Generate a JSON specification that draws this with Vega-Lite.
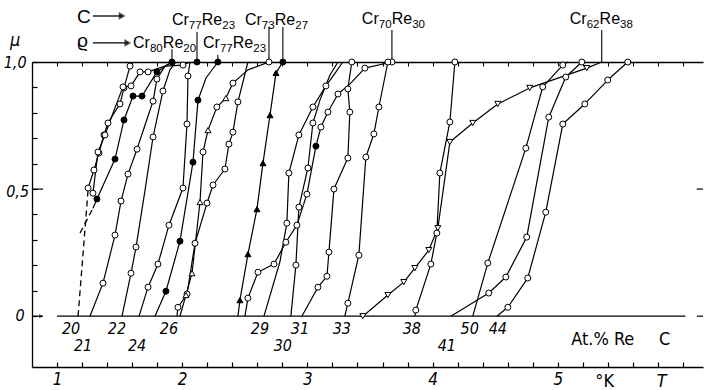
{
  "$schema": "https://vega.github.io/schema/vega-lite/v6.json",
  "width": 671,
  "height": 305,
  "autosize": {"type": "none"},
  "padding": {"left": 32, "top": 62, "right": 1, "bottom": 23},
  "background": "white",
  "config": {
    "view": {"stroke": null},
    "font": "Liberation Sans Narrow, DejaVu Sans Condensed, Liberation Sans, sans-serif",
    "axis": {"grid": false, "domainColor": "black", "tickColor": "black", "title": null}
  },
  "datasets": {
    "curves": [
      {"c": "L1", "k": 0, "T": 1.248, "mu": 0.504, "m": "o"},
      {"c": "L1", "k": 1, "T": 1.295, "mu": 0.575, "m": "o"},
      {"c": "L1", "k": 2, "T": 1.335, "mu": 0.642, "m": "o"},
      {"c": "L1", "k": 3, "T": 1.375, "mu": 0.713, "m": "o"},
      {"c": "L1", "k": 4, "T": 1.407, "mu": 0.76, "m": "o"},
      {"c": "L1", "k": 5, "T": 1.455, "mu": 0.799, "m": ""},
      {"c": "L1", "k": 6, "T": 1.503, "mu": 0.835, "m": "o"},
      {"c": "L1", "k": 7, "T": 1.535, "mu": 0.898, "m": "o"},
      {"c": "L1", "k": 8, "T": 1.583, "mu": 0.984, "m": "o"},
      {"c": "L1", "k": 9, "T": 1.599, "mu": 1.0, "m": ""},

      {"c": "L2", "k": 0, "T": 1.287, "mu": 0.425, "m": ""},
      {"c": "L2", "k": 1, "T": 1.319, "mu": 0.461, "m": "f"},
      {"c": "L2", "k": 2, "T": 1.463, "mu": 0.618, "m": "f"},
      {"c": "L2", "k": 3, "T": 1.535, "mu": 0.772, "m": "f"},
      {"c": "L2", "k": 4, "T": 1.607, "mu": 0.866, "m": "f"},
      {"c": "L2", "k": 5, "T": 1.679, "mu": 0.866, "m": "f"},
      {"c": "L2", "k": 6, "T": 1.798, "mu": 0.961, "m": "f"},
      {"c": "L2", "k": 7, "T": 1.918, "mu": 1.0, "m": "f"},

      {"c": "L3", "k": 0, "T": 1.263, "mu": 0, "m": ""},
      {"c": "L3", "k": 1, "T": 1.367, "mu": 0.13, "m": "o"},
      {"c": "L3", "k": 2, "T": 1.463, "mu": 0.319, "m": "o"},
      {"c": "L3", "k": 3, "T": 1.511, "mu": 0.453, "m": "o"},
      {"c": "L3", "k": 4, "T": 1.567, "mu": 0.559, "m": "o"},
      {"c": "L3", "k": 5, "T": 1.639, "mu": 0.657, "m": "o"},
      {"c": "L3", "k": 6, "T": 1.711, "mu": 0.764, "m": ""},
      {"c": "L3", "k": 7, "T": 1.767, "mu": 0.846, "m": "o"},
      {"c": "L3", "k": 8, "T": 1.798, "mu": 0.933, "m": "o"},
      {"c": "L3", "k": 9, "T": 1.862, "mu": 0.984, "m": ""},
      {"c": "L3", "k": 10, "T": 1.918, "mu": 1.0, "m": ""},

      {"c": "L4", "k": 0, "T": 1.287, "mu": 0.484, "m": "o"},
      {"c": "L4", "k": 1, "T": 1.327, "mu": 0.646, "m": "o"},
      {"c": "L4", "k": 2, "T": 1.383, "mu": 0.713, "m": "o"},
      {"c": "L4", "k": 3, "T": 1.447, "mu": 0.799, "m": ""},
      {"c": "L4", "k": 4, "T": 1.527, "mu": 0.902, "m": "o"},
      {"c": "L4", "k": 5, "T": 1.591, "mu": 0.906, "m": "o"},
      {"c": "L4", "k": 6, "T": 1.663, "mu": 0.961, "m": "o"},
      {"c": "L4", "k": 7, "T": 1.727, "mu": 0.961, "m": "o"},
      {"c": "L4", "k": 8, "T": 1.862, "mu": 0.984, "m": ""},
      {"c": "L4", "k": 9, "T": 2.006, "mu": 0.988, "m": "o"},
      {"c": "L4", "k": 10, "T": 2.062, "mu": 1.0, "m": ""},

      {"c": "L5", "k": 0, "T": 1.519, "mu": 0, "m": ""},
      {"c": "L5", "k": 1, "T": 1.591, "mu": 0.169, "m": "o"},
      {"c": "L5", "k": 2, "T": 1.631, "mu": 0.272, "m": "o"},
      {"c": "L5", "k": 3, "T": 1.703, "mu": 0.496, "m": ""},
      {"c": "L5", "k": 4, "T": 1.767, "mu": 0.705, "m": "o"},
      {"c": "L5", "k": 5, "T": 1.846, "mu": 0.886, "m": "o"},
      {"c": "L5", "k": 6, "T": 1.902, "mu": 0.969, "m": ""},
      {"c": "L5", "k": 7, "T": 1.95, "mu": 1.0, "m": ""},

      {"c": "L7", "k": 0, "T": 1.655, "mu": 0, "m": ""},
      {"c": "L7", "k": 1, "T": 1.727, "mu": 0.114, "m": "o"},
      {"c": "L7", "k": 2, "T": 1.806, "mu": 0.205, "m": "o"},
      {"c": "L7", "k": 3, "T": 1.894, "mu": 0.358, "m": "o"},
      {"c": "L7", "k": 4, "T": 2.006, "mu": 0.504, "m": "o"},
      {"c": "L7", "k": 5, "T": 2.038, "mu": 0.756, "m": "o"},
      {"c": "L7", "k": 6, "T": 2.046, "mu": 0.945, "m": "o"},
      {"c": "L7", "k": 7, "T": 2.062, "mu": 1.0, "m": ""},

      {"c": "L8", "k": 0, "T": 1.782, "mu": 0, "m": ""},
      {"c": "L8", "k": 1, "T": 1.87, "mu": 0.098, "m": "f"},
      {"c": "L8", "k": 2, "T": 1.982, "mu": 0.295, "m": "f"},
      {"c": "L8", "k": 3, "T": 2.086, "mu": 0.606, "m": "f"},
      {"c": "L8", "k": 4, "T": 2.126, "mu": 0.85, "m": "f"},
      {"c": "L8", "k": 5, "T": 2.19, "mu": 0.937, "m": ""},
      {"c": "L8", "k": 6, "T": 2.285, "mu": 1.0, "m": "f"},

      {"c": "L9", "k": 0, "T": 1.958, "mu": 0, "m": ""},
      {"c": "L9", "k": 1, "T": 1.966, "mu": 0.035, "m": "o"},
      {"c": "L9", "k": 2, "T": 2.038, "mu": 0.087, "m": "o"},
      {"c": "L9", "k": 3, "T": 2.102, "mu": 0.287, "m": "o"},
      {"c": "L9", "k": 4, "T": 2.198, "mu": 0.445, "m": "o"},
      {"c": "L9", "k": 5, "T": 2.246, "mu": 0.516, "m": "o"},
      {"c": "L9", "k": 6, "T": 2.341, "mu": 0.579, "m": "o"},
      {"c": "L9", "k": 7, "T": 2.373, "mu": 0.677, "m": "o"},
      {"c": "L9", "k": 8, "T": 2.405, "mu": 0.724, "m": "o"},
      {"c": "L9", "k": 9, "T": 2.445, "mu": 0.843, "m": "o"},
      {"c": "L9", "k": 10, "T": 2.493, "mu": 0.937, "m": ""},
      {"c": "L9", "k": 11, "T": 2.525, "mu": 1.0, "m": ""},

      {"c": "L10", "k": 0, "T": 1.982, "mu": 0, "m": ""},
      {"c": "L10", "k": 1, "T": 2.03, "mu": 0.083, "m": "t"},
      {"c": "L10", "k": 2, "T": 2.078, "mu": 0.169, "m": "t"},
      {"c": "L10", "k": 3, "T": 2.142, "mu": 0.449, "m": "t"},
      {"c": "L10", "k": 4, "T": 2.166, "mu": 0.646, "m": "o"},
      {"c": "L10", "k": 5, "T": 2.206, "mu": 0.732, "m": "t"},
      {"c": "L10", "k": 6, "T": 2.277, "mu": 0.823, "m": "o"},
      {"c": "L10", "k": 7, "T": 2.349, "mu": 0.858, "m": "t"},
      {"c": "L10", "k": 8, "T": 2.405, "mu": 0.917, "m": "o"},
      {"c": "L10", "k": 9, "T": 2.525, "mu": 0.969, "m": ""},
      {"c": "L10", "k": 10, "T": 2.693, "mu": 1.0, "m": "o"},

      {"c": "L11", "k": 0, "T": 2.445, "mu": 0, "m": ""},
      {"c": "L11", "k": 1, "T": 2.461, "mu": 0.063, "m": "ft"},
      {"c": "L11", "k": 2, "T": 2.525, "mu": 0.244, "m": "ft"},
      {"c": "L11", "k": 3, "T": 2.597, "mu": 0.421, "m": "ft"},
      {"c": "L11", "k": 4, "T": 2.645, "mu": 0.602, "m": "ft"},
      {"c": "L11", "k": 5, "T": 2.701, "mu": 0.791, "m": "ft"},
      {"c": "L11", "k": 6, "T": 2.749, "mu": 0.957, "m": "ft"},
      {"c": "L11", "k": 7, "T": 2.804, "mu": 1.0, "m": "f"},

      {"c": "A", "k": 0, "T": 2.501, "mu": 0, "m": ""},
      {"c": "A", "k": 1, "T": 2.525, "mu": 0.071, "m": "o"},
      {"c": "A", "k": 2, "T": 2.605, "mu": 0.173, "m": "o"},
      {"c": "A", "k": 3, "T": 2.733, "mu": 0.205, "m": "o"},
      {"c": "A", "k": 4, "T": 2.828, "mu": 0.291, "m": "o"},
      {"c": "A", "k": 5, "T": 2.916, "mu": 0.358, "m": "o"},
      {"c": "A", "k": 6, "T": 2.996, "mu": 0.48, "m": "o"},
      {"c": "A", "k": 7, "T": 3.068, "mu": 0.669, "m": "f"},
      {"c": "A", "k": 8, "T": 3.108, "mu": 0.744, "m": "o"},
      {"c": "A", "k": 9, "T": 3.164, "mu": 0.803, "m": "o"},
      {"c": "A", "k": 10, "T": 3.244, "mu": 0.874, "m": "o"},
      {"c": "A", "k": 11, "T": 3.339, "mu": 0.913, "m": ""},
      {"c": "A", "k": 12, "T": 3.459, "mu": 0.976, "m": "o"},
      {"c": "A", "k": 13, "T": 3.675, "mu": 1.0, "m": "o"},

      {"c": "B", "k": 0, "T": 2.653, "mu": 0, "m": ""},
      {"c": "B", "k": 1, "T": 2.78, "mu": 0.213, "m": ""},
      {"c": "B", "k": 2, "T": 2.836, "mu": 0.366, "m": "o"},
      {"c": "B", "k": 3, "T": 2.852, "mu": 0.563, "m": "o"},
      {"c": "B", "k": 4, "T": 2.932, "mu": 0.713, "m": "o"},
      {"c": "B", "k": 5, "T": 3.044, "mu": 0.823, "m": "o"},
      {"c": "B", "k": 6, "T": 3.148, "mu": 0.906, "m": "o"},
      {"c": "B", "k": 7, "T": 3.228, "mu": 0.961, "m": ""},
      {"c": "B", "k": 8, "T": 3.283, "mu": 1.0, "m": ""},

      {"c": "C", "k": 0, "T": 2.868, "mu": 0, "m": ""},
      {"c": "C", "k": 1, "T": 2.908, "mu": 0.201, "m": "o"},
      {"c": "C", "k": 2, "T": 2.932, "mu": 0.429, "m": "o"},
      {"c": "C", "k": 3, "T": 3.004, "mu": 0.583, "m": "o"},
      {"c": "C", "k": 4, "T": 3.044, "mu": 0.76, "m": "o"},
      {"c": "C", "k": 5, "T": 3.1, "mu": 0.85, "m": ""},
      {"c": "C", "k": 6, "T": 3.18, "mu": 0.949, "m": ""},
      {"c": "C", "k": 7, "T": 3.244, "mu": 1.0, "m": ""},

      {"c": "D", "k": 0, "T": 2.956, "mu": 0, "m": ""},
      {"c": "D", "k": 1, "T": 3.084, "mu": 0.114, "m": "o"},
      {"c": "D", "k": 2, "T": 3.156, "mu": 0.157, "m": "o"},
      {"c": "D", "k": 3, "T": 3.172, "mu": 0.252, "m": "o"},
      {"c": "D", "k": 4, "T": 3.212, "mu": 0.5, "m": "o"},
      {"c": "D", "k": 5, "T": 3.323, "mu": 0.622, "m": "o"},
      {"c": "D", "k": 6, "T": 3.339, "mu": 0.803, "m": "o"},
      {"c": "D", "k": 7, "T": 3.323, "mu": 0.894, "m": "o"},
      {"c": "D", "k": 8, "T": 3.355, "mu": 1.0, "m": "o"},

      {"c": "E", "k": 0, "T": 3.299, "mu": 0, "m": ""},
      {"c": "E", "k": 1, "T": 3.323, "mu": 0.051, "m": "o"},
      {"c": "E", "k": 2, "T": 3.411, "mu": 0.24, "m": "o"},
      {"c": "E", "k": 3, "T": 3.467, "mu": 0.626, "m": "o"},
      {"c": "E", "k": 4, "T": 3.531, "mu": 0.717, "m": "o"},
      {"c": "E", "k": 5, "T": 3.571, "mu": 0.823, "m": "o"},
      {"c": "E", "k": 6, "T": 3.643, "mu": 1.0, "m": "o"},

      {"c": "G", "k": 0, "T": 3.443, "mu": 0, "m": "td"},
      {"c": "G", "k": 1, "T": 3.643, "mu": 0.083, "m": "td"},
      {"c": "G", "k": 2, "T": 3.77, "mu": 0.134, "m": "td"},
      {"c": "G", "k": 3, "T": 3.858, "mu": 0.189, "m": "td"},
      {"c": "G", "k": 4, "T": 3.97, "mu": 0.26, "m": "td"},
      {"c": "G", "k": 5, "T": 4.042, "mu": 0.346, "m": "td"},
      {"c": "G", "k": 6, "T": 4.138, "mu": 0.685, "m": "td"},
      {"c": "G", "k": 7, "T": 4.321, "mu": 0.76, "m": "td"},
      {"c": "G", "k": 8, "T": 4.521, "mu": 0.835, "m": "td"},
      {"c": "G", "k": 9, "T": 4.776, "mu": 0.898, "m": "td"},
      {"c": "G", "k": 10, "T": 5.232, "mu": 0.976, "m": "td"},
      {"c": "G", "k": 11, "T": 5.351, "mu": 1.0, "m": ""},

      {"c": "F", "k": 0, "T": 3.858, "mu": 0, "m": ""},
      {"c": "F", "k": 1, "T": 3.866, "mu": 0.024, "m": "o"},
      {"c": "F", "k": 2, "T": 3.986, "mu": 0.205, "m": "o"},
      {"c": "F", "k": 3, "T": 4.034, "mu": 0.327, "m": "o"},
      {"c": "F", "k": 4, "T": 4.058, "mu": 0.563, "m": "o"},
      {"c": "F", "k": 5, "T": 4.138, "mu": 0.764, "m": "o"},
      {"c": "F", "k": 6, "T": 4.178, "mu": 1.0, "m": "o"},

      {"c": "H", "k": 0, "T": 4.146, "mu": 0, "m": ""},
      {"c": "H", "k": 1, "T": 4.449, "mu": 0.091, "m": "o"},
      {"c": "H", "k": 2, "T": 4.585, "mu": 0.154, "m": "o"},
      {"c": "H", "k": 3, "T": 4.752, "mu": 0.311, "m": "o"},
      {"c": "H", "k": 4, "T": 4.928, "mu": 0.783, "m": "o"},
      {"c": "H", "k": 5, "T": 5.064, "mu": 0.941, "m": "o"},
      {"c": "H", "k": 6, "T": 5.192, "mu": 1.0, "m": "o"},

      {"c": "I", "k": 0, "T": 4.321, "mu": 0, "m": ""},
      {"c": "I", "k": 1, "T": 4.441, "mu": 0.209, "m": "o"},
      {"c": "I", "k": 2, "T": 4.745, "mu": 0.661, "m": "o"},
      {"c": "I", "k": 3, "T": 4.88, "mu": 0.902, "m": "o"},
      {"c": "I", "k": 4, "T": 5.04, "mu": 0.988, "m": "o"},
      {"c": "I", "k": 5, "T": 5.08, "mu": 1.0, "m": ""},

      {"c": "J", "k": 0, "T": 4.513, "mu": 0, "m": ""},
      {"c": "J", "k": 1, "T": 4.601, "mu": 0.035, "m": "o"},
      {"c": "J", "k": 2, "T": 4.76, "mu": 0.15, "m": "o"},
      {"c": "J", "k": 3, "T": 4.904, "mu": 0.409, "m": "o"},
      {"c": "J", "k": 4, "T": 5.04, "mu": 0.756, "m": "o"},
      {"c": "J", "k": 5, "T": 5.216, "mu": 0.835, "m": "o"},
      {"c": "J", "k": 6, "T": 5.399, "mu": 0.929, "m": "o"},
      {"c": "J", "k": 7, "T": 5.559, "mu": 1.0, "m": "o"},

      {"c": "P", "k": 0, "T": 2.118, "mu": 1.0, "m": "f"}
    ],
    "dashed": [
      {"c": "d1", "k": 0, "T": 1.168, "mu": 0},
      {"c": "d1", "k": 1, "T": 1.248, "mu": 0.496},
      {"c": "d2", "k": 0, "T": 1.184, "mu": 0.327},
      {"c": "d2", "k": 1, "T": 1.287, "mu": 0.425}
    ],
    "leaders": [
      {"T": 1.918, "a": 1.0, "b": 1.05},
      {"T": 2.118, "a": 1.0, "b": 1.118},
      {"T": 2.285, "a": 1.0, "b": 1.028},
      {"T": 2.693, "a": 1.0, "b": 1.138},
      {"T": 2.804, "a": 1.0, "b": 1.138},
      {"T": 3.675, "a": 1.0, "b": 1.126},
      {"T": 5.351, "a": 1.0, "b": 1.126}
    ],
    "heads": [
      {"cr": "77", "re": "23", "T": 1.918, "mu": 1.146},
      {"cr": "73", "re": "27", "T": 2.501, "mu": 1.146},
      {"cr": "80", "re": "20", "T": 1.607, "mu": 1.055},
      {"cr": "77", "re": "23", "T": 2.166, "mu": 1.055},
      {"cr": "70", "re": "30", "T": 3.435, "mu": 1.15},
      {"cr": "62", "re": "38", "T": 5.096, "mu": 1.15}
    ],
    "arrows": [
      {"T0": 1.287, "T1": 1.52, "mu": 1.181},
      {"T0": 1.287, "T1": 1.565, "mu": 1.075}
    ],
    "symbols": [
      {"t": "C", "T": 1.16, "mu": 1.154},
      {"t": "ϱ", "T": 1.16, "mu": 1.06}
    ],
    "comps": [
      {"t": "20", "T": 1.112, "mu": -0.051},
      {"t": "21", "T": 1.208, "mu": -0.118},
      {"t": "22", "T": 1.479, "mu": -0.051},
      {"t": "24", "T": 1.639, "mu": -0.118},
      {"t": "26", "T": 1.894, "mu": -0.051},
      {"t": "29", "T": 2.621, "mu": -0.051},
      {"t": "30", "T": 2.804, "mu": -0.118},
      {"t": "31", "T": 2.94, "mu": -0.051},
      {"t": "33", "T": 3.275, "mu": -0.051},
      {"t": "38", "T": 3.834, "mu": -0.051},
      {"t": "41", "T": 4.114, "mu": -0.118},
      {"t": "50", "T": 4.297, "mu": -0.051},
      {"t": "44", "T": 4.521, "mu": -0.051}
    ],
    "ynums": [
      {"t": "1,0", "T": 0.665, "mu": 0.996},
      {"t": "0,5", "T": 0.685, "mu": 0.488},
      {"t": "0", "T": 0.705, "mu": 0.0}
    ],
    "units": [
      {"t": "At.% Re", "T": 5.359, "mu": -0.094},
      {"t": "C", "T": 5.854, "mu": -0.094},
      {"t": "°K", "T": 5.375, "mu": -0.26}
    ]
  },
  "resolve": {"axis": {"x": "independent", "y": "independent"}},
  "layer": [
    {
      "data": {"values": [{"a": 1}]},
      "mark": {"type": "rule", "color": "black", "strokeWidth": 1.3},
      "encoding": {
        "x": {
          "datum": 1.0, "type": "quantitative",
          "scale": {"domain": [0.8, 6.16], "nice": false, "zero": false},
          "axis": {
            "orient": "bottom",
            "values": [1, 1.2, 1.4, 1.6, 1.8, 2, 2.2, 2.4, 2.6, 2.8, 3, 3.2, 3.4, 3.6, 3.8, 4, 4.2, 4.4, 4.6, 4.8, 5, 5.2, 5.4, 5.6, 5.8, 6],
            "domainWidth": 1.3, "tickWidth": 1.2, "tickSize": -5,
            "labelExpr": "datum.value % 1 === 0 && datum.value < 6 ? format(datum.value, 'd') : ''",
            "labelFontSize": 17, "labelFontStyle": "italic", "labelColor": "black",
            "labelPadding": 9, "labelOverlap": false, "labelFlush": false
          }
        },
        "x2": {"datum": 6.02},
        "y": {
          "datum": 0, "type": "quantitative",
          "scale": {"domain": [-0.2, 1.0], "nice": false, "zero": false},
          "axis": {
            "orient": "left",
            "values": [0, 0.1, 0.2, 0.3, 0.4, 0.5, 0.6, 0.7, 0.8, 0.9, 1],
            "labels": false, "domainWidth": 1.3, "tickWidth": 1.2, "tickSize": -5
          }
        }
      }
    },
    {
      "data": {"values": [{"mu": 0}, {"mu": 0.5}]},
      "mark": {"type": "rule", "color": "black", "strokeWidth": 1.2},
      "encoding": {
        "x": {
          "datum": 6.11, "type": "quantitative",
          "axis": {
            "orient": "top",
            "values": [1, 1.2, 1.4, 1.6, 1.8, 2, 2.2, 2.4, 2.6, 2.8, 3, 3.2, 3.4, 3.6, 3.8, 4, 4.2, 4.4, 4.6, 4.8, 5, 5.2, 5.4, 5.6, 5.8, 6],
            "labels": false, "domainWidth": 1.3, "tickWidth": 1.1, "tickSize": -4
          }
        },
        "x2": {"datum": 6.16},
        "y": {"field": "mu", "type": "quantitative", "axis": null}
      }
    },
    {
      "data": {"values": [{"mu": 0}, {"mu": 0.5}]},
      "mark": {"type": "rule", "color": "black", "strokeWidth": 1.2},
      "encoding": {
        "x": {"datum": 0.8, "type": "quantitative", "axis": null},
        "x2": {"datum": 0.888},
        "y": {"field": "mu", "type": "quantitative", "axis": null}
      }
    },
    {
      "data": {"values": [{"mu": 0}]},
      "mark": {"type": "point", "shape": "triangle-right", "filled": true, "color": "black", "size": 18},
      "encoding": {
        "x": {"datum": 0.872, "type": "quantitative", "axis": null},
        "y": {"field": "mu", "type": "quantitative", "axis": null}
      }
    },
    {
      "data": {"name": "dashed"},
      "mark": {"type": "line", "color": "black", "strokeWidth": 1.3, "strokeDash": [6, 4]},
      "encoding": {
        "x": {"field": "T", "type": "quantitative", "axis": null},
        "y": {"field": "mu", "type": "quantitative", "axis": null},
        "detail": {"field": "c"},
        "order": {"field": "k", "type": "quantitative"}
      }
    },
    {
      "data": {"name": "curves"},
      "mark": {"type": "line", "color": "black", "strokeWidth": 1.2, "strokeJoin": "round"},
      "encoding": {
        "x": {"field": "T", "type": "quantitative", "axis": null},
        "y": {"field": "mu", "type": "quantitative", "axis": null},
        "detail": {"field": "c"},
        "order": {"field": "k", "type": "quantitative"}
      }
    },
    {
      "data": {"name": "leaders"},
      "mark": {"type": "rule", "color": "black", "strokeWidth": 1.1},
      "encoding": {
        "x": {"field": "T", "type": "quantitative", "axis": null},
        "y": {"field": "a", "type": "quantitative", "axis": null},
        "y2": {"field": "b"}
      }
    },
    {
      "data": {"name": "curves"},
      "transform": [{"filter": "datum.m !== ''"}],
      "mark": {"type": "point", "filled": true, "stroke": "black", "strokeWidth": 1, "size": 36, "opacity": 1},
      "encoding": {
        "x": {"field": "T", "type": "quantitative", "axis": null},
        "y": {"field": "mu", "type": "quantitative", "axis": null},
        "shape": {
          "field": "m", "type": "nominal", "legend": null,
          "scale": {"domain": ["o", "f", "t", "ft", "td"], "range": ["circle", "circle", "triangle-up", "triangle-up", "triangle-down"]}
        },
        "fill": {
          "field": "m", "type": "nominal", "legend": null,
          "scale": {"domain": ["o", "f", "t", "ft", "td"], "range": ["white", "black", "white", "black", "white"]}
        }
      }
    },
    {
      "data": {"name": "arrows"},
      "mark": {"type": "rule", "color": "black", "strokeWidth": 1.3},
      "encoding": {
        "x": {"field": "T0", "type": "quantitative", "axis": null},
        "x2": {"field": "T1"},
        "y": {"field": "mu", "type": "quantitative", "axis": null}
      }
    },
    {
      "data": {"name": "arrows"},
      "mark": {"type": "point", "shape": "triangle-right", "filled": true, "color": "black", "size": 60},
      "encoding": {
        "x": {"field": "T1", "type": "quantitative", "axis": null},
        "y": {"field": "mu", "type": "quantitative", "axis": null}
      }
    },
    {
      "data": {"name": "heads"},
      "mark": {"type": "text", "align": "left", "baseline": "alphabetic", "font": "Liberation Sans", "fontSize": 16, "color": "black"},
      "encoding": {
        "x": {"field": "T", "type": "quantitative", "axis": null},
        "y": {"field": "mu", "type": "quantitative", "axis": null},
        "text": {"value": "Cr"}
      }
    },
    {
      "data": {"name": "heads"},
      "mark": {"type": "text", "align": "left", "baseline": "alphabetic", "font": "Liberation Sans", "fontSize": 11.5, "dx": 16.9, "dy": 4, "color": "black"},
      "encoding": {
        "x": {"field": "T", "type": "quantitative", "axis": null},
        "y": {"field": "mu", "type": "quantitative", "axis": null},
        "text": {"field": "cr"}
      }
    },
    {
      "data": {"name": "heads"},
      "mark": {"type": "text", "align": "left", "baseline": "alphabetic", "font": "Liberation Sans", "fontSize": 16, "dx": 29.8, "color": "black"},
      "encoding": {
        "x": {"field": "T", "type": "quantitative", "axis": null},
        "y": {"field": "mu", "type": "quantitative", "axis": null},
        "text": {"value": "Re"}
      }
    },
    {
      "data": {"name": "heads"},
      "mark": {"type": "text", "align": "left", "baseline": "alphabetic", "font": "Liberation Sans", "fontSize": 11.5, "dx": 50.3, "dy": 4, "color": "black"},
      "encoding": {
        "x": {"field": "T", "type": "quantitative", "axis": null},
        "y": {"field": "mu", "type": "quantitative", "axis": null},
        "text": {"field": "re"}
      }
    },
    {
      "data": {"name": "symbols"},
      "mark": {"type": "text", "align": "left", "baseline": "alphabetic", "font": "Liberation Sans", "fontSize": 19, "color": "black"},
      "encoding": {
        "x": {"field": "T", "type": "quantitative", "axis": null},
        "y": {"field": "mu", "type": "quantitative", "axis": null},
        "text": {"field": "t"}
      }
    },
    {
      "data": {"name": "comps"},
      "mark": {"type": "text", "align": "center", "baseline": "middle", "fontSize": 16, "fontStyle": "italic", "color": "black"},
      "encoding": {
        "x": {"field": "T", "type": "quantitative", "axis": null},
        "y": {"field": "mu", "type": "quantitative", "axis": null},
        "text": {"field": "t"}
      }
    },
    {
      "data": {"name": "ynums"},
      "mark": {"type": "text", "align": "center", "baseline": "middle", "fontSize": 16, "fontStyle": "italic", "color": "black"},
      "encoding": {
        "x": {"field": "T", "type": "quantitative", "axis": null},
        "y": {"field": "mu", "type": "quantitative", "axis": null},
        "text": {"field": "t"}
      }
    },
    {
      "data": {"values": [{"t": "μ", "T": 0.665, "mu": 1.082}, {"t": "T", "T": 5.83, "mu": -0.26}]},
      "mark": {"type": "text", "align": "center", "baseline": "middle", "fontSize": 18, "fontStyle": "italic", "color": "black"},
      "encoding": {
        "x": {"field": "T", "type": "quantitative", "axis": null},
        "y": {"field": "mu", "type": "quantitative", "axis": null},
        "text": {"field": "t"}
      }
    },
    {
      "data": {"name": "units"},
      "mark": {"type": "text", "align": "center", "baseline": "middle", "fontSize": 18, "color": "black"},
      "encoding": {
        "x": {"field": "T", "type": "quantitative", "axis": null},
        "y": {"field": "mu", "type": "quantitative", "axis": null},
        "text": {"field": "t"}
      }
    }
  ]
}
